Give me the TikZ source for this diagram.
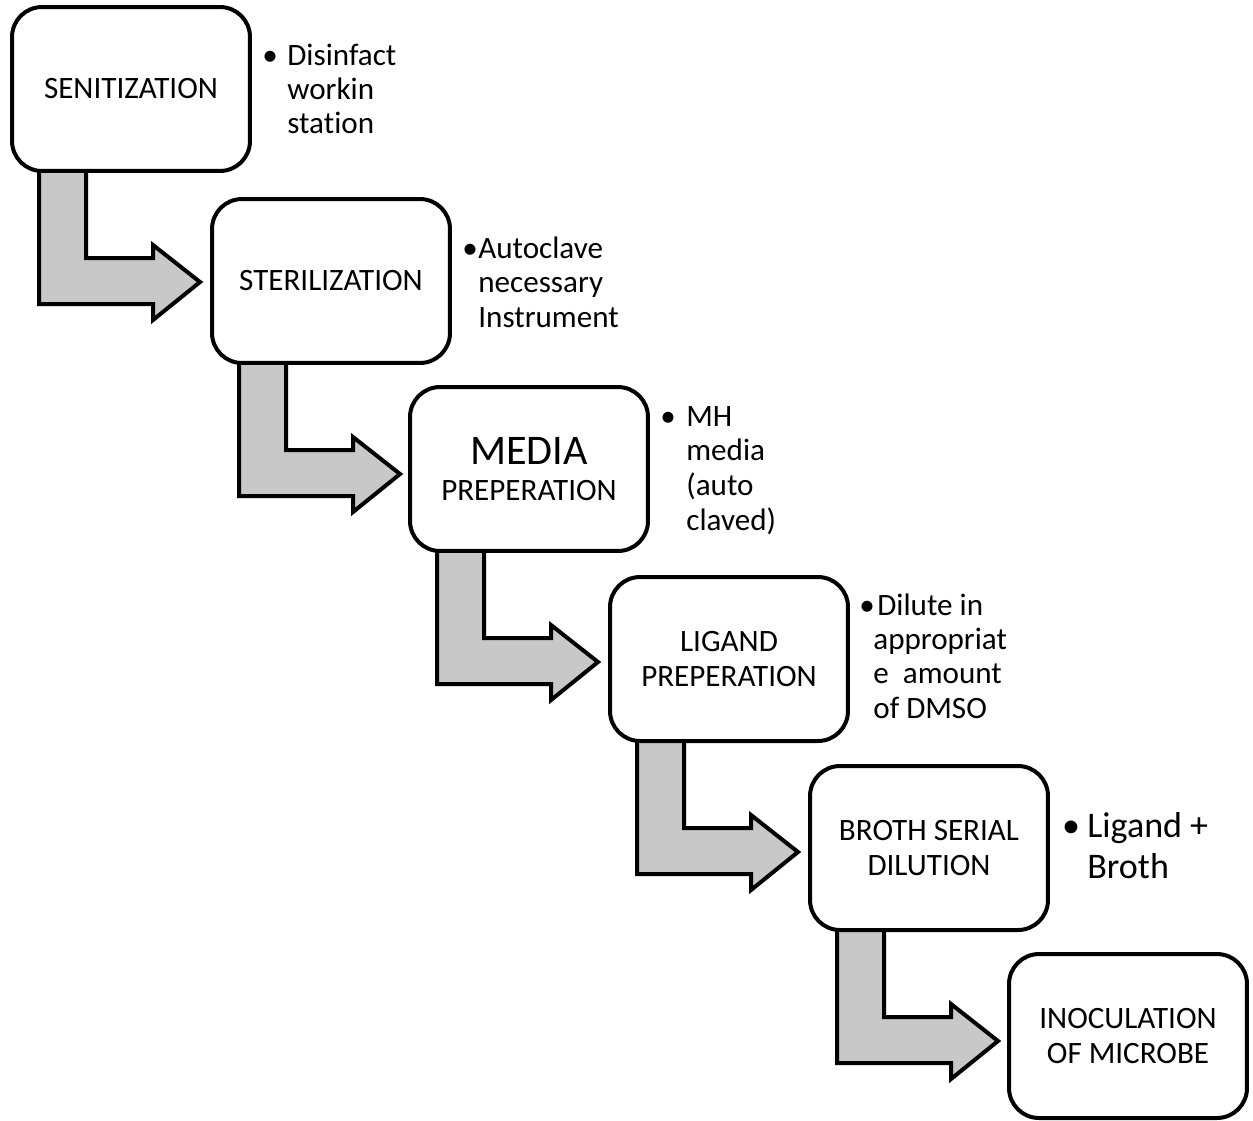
\documentclass[tikz,border=0pt]{standalone}
\usepackage{fontspec}
\setmainfont{Carlito}[Ligatures=NoCommon]
\usetikzlibrary{backgrounds}
\definecolor{arrowgray}{RGB}{200,200,200}
\begin{document}
\begin{tikzpicture}[x=0.02cm, y=-0.02cm,
  stepbox/.style={draw, line width=0.08cm, rounded corners=0.6cm, fill=white,
    minimum width=4.76cm, minimum height=3.28cm, align=center, inner sep=0pt,
    font=\fontsize{17.7}{20}\selectfont},
  bent/.style={draw, line width=0.08cm, fill=arrowgray, line join=miter},
  note/.style={anchor=base west, inner sep=0pt, font=\fontsize{17.7}{19.6}\selectfont},
  dot/.style={anchor=base, inner sep=0pt, font=\fontsize{17.7}{19.6}\selectfont},
  bignote/.style={anchor=base west, inner sep=0pt, font=\fontsize{20.5}{23}\selectfont},
  bigdot/.style={anchor=base, inner sep=0pt, font=\fontsize{20.5}{23}\selectfont}]
\useasboundingbox (0,0) rectangle (1253,1120);

% boxes
\node[stepbox] (s1) at (131,89)   {SENITIZATION};
\node[stepbox] (s2) at (331,281)  {STERILIZATION};
\node[stepbox] (s3) at (529,469)  {{\fontsize{24}{28}\selectfont MEDIA}\\PREPERATION};
\node[stepbox] (s4) at (729,659)  {LIGAND\\PREPERATION};
\node[stepbox] (s5) at (929,848)  {BROTH SERIAL\\DILUTION};
\node[stepbox] (s6) at (1128,1036) {INOCULATION\\OF MICROBE};

% bent arrows
\begin{scope}[on background layer]
\foreach \i in {1,...,5} {
  \path[bent] ([shift={(-92,80)}]s\i.center) -- ([shift={(-45,80)}]s\i.center)
    -- ([shift={(-45,169)}]s\i.center) -- ([shift={(22,169)}]s\i.center)
    -- ([shift={(22,156)}]s\i.center) -- ([shift={(69,193)}]s\i.center)
    -- ([shift={(22,231)}]s\i.center) -- ([shift={(22,215)}]s\i.center)
    -- ([shift={(-92,215)}]s\i.center) -- cycle;
}
\end{scope}

% notes
\node[dot] (d1) at (270,65) {•};
\foreach \t [count=\i from 0] in {Disinfact,workin,station}
  \node[note] (n1-\i) at (287,65+34*\i) {\t};

\node[dot] (d2) at (470,258) {•};
\foreach \t [count=\i from 0] in {Autoclave,necessary,Instrument}
  \node[note] (n2-\i) at (478,258+34.5*\i) {\t};

\node[dot] (d3) at (668,426) {•};
\node[note] (n3-0) at (686,426) {MH};
\node[note] (n3-1) at (686,460.7) {media};
\node[note] (n3-2) at (686,495.4) {(auto};
\node[note] (n3-3) at (686,530) {claved)};

\node[dot] (d4) at (867,615) {•};
\node[note] (n4-0) at (877,615) {Dilute in};
\foreach \t [count=\i from 1] in {appropriat,{e\ \ amount},of DMSO}
  \node[note] (n4-\i) at (873,615+34.4*\i) {\t};

\node[bigdot] (d5) at (1071,837) {•};
\node[bignote] (n5-0) at (1087,837) {Ligand +};
\node[bignote] (n5-1) at (1087,878) {Broth};
\end{tikzpicture}
\end{document}
